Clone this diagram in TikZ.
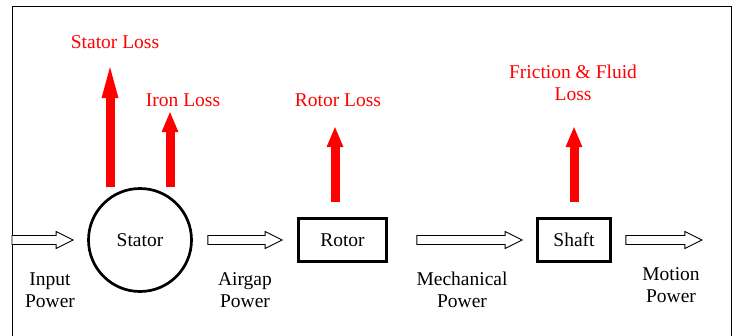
\documentclass[tikz,border=0pt]{standalone}
\usepackage{fontspec}
\setmainfont{Liberation Serif}
\usepackage{tikz}
\usetikzlibrary{arrows.meta,positioning,calc}
\definecolor{lossred}{RGB}{255,0,0}

\begin{document}
\begin{tikzpicture}[
    x=1pt, y=-1pt,
    every node/.style={font=\fontsize{19.5}{22}\selectfont, align=center},
    unit/.style={draw, line width=2.7pt, minimum height=43pt, inner sep=0pt},
    lossarr/.style={draw=lossred, line width=9pt, -{Triangle[length=20pt, width=17pt, line width=0pt]}},
    losstxt/.style={text=lossred},
    flow/.style={draw, fill=white, line width=0.9pt, line join=miter,
        to path={($(\tikztostart)+(0,-4.5)$) -- ($(\tikztotarget)+(-17,-4.5)$)
            -- ($(\tikztotarget)+(-17,-8.5)$) -- (\tikztotarget)
            -- ($(\tikztotarget)+(-17,8.5)$) -- ($(\tikztotarget)+(-17,4.5)$)
            -- ($(\tikztostart)+(0,4.5)$) -- cycle}}
]
\useasboundingbox (0,0) rectangle (735,335);
\draw[line width=1pt] (12,345) -- (12,6) -- (731.5,6) -- (731.5,345);

% machine parts
\node[unit, circle, minimum size=103pt] (stator) at (140,240) {Stator};
\node[unit, minimum width=88pt] (rotor) at (342.5,240) {Rotor};
\node[unit, minimum width=73pt] (shaft) at (574,240) {Shaft};

% power flow
\coordinate (in0) at (12,240);
\coordinate (in1) at ($(stator.west)+(-14,0)$);
\coordinate (ag0) at ($(stator.east)+(15,0)$);
\coordinate (ag1) at ($(rotor.west)+(-15,0)$);
\coordinate (me0) at ($(rotor.east)+(29,0)$);
\coordinate (me1) at ($(shaft.west)+(-14,0)$);
\coordinate (mo0) at ($(shaft.east)+(14,0)$);
\coordinate (mo1) at ($(shaft.east)+(90,0)$);
\draw[flow] (in0) to (in1);
\draw[flow] (ag0) to (ag1);
\draw[flow] (me0) to (me1);
\draw[flow] (mo0) to (mo1);

\node (inpw) at (50,290) {Input\\Power};
\node (agpw) at (245,290) {Airgap\\Power};
\node (mepw) at (462,290) {Mechanical\\Power};
\node (mopw) at (671,285) {Motion\\Power};

% losses
\coordinate (sl0) at ($(stator.north)+(-30,0)$);
\coordinate (sl1) at ($(stator.north)+(-30,-120)$);
\coordinate (il0) at ($(stator.north)+(30,0)$);
\coordinate (il1) at ($(stator.north)+(30,-75)$);
\coordinate (rl0) at ($(rotor.north)+(-7.5,-15)$);
\coordinate (rl1) at ($(rotor.north)+(-7.5,-90)$);
\coordinate (fl0) at ($(shaft.north)+(0,-15)$);
\coordinate (fl1) at ($(shaft.north)+(0,-90)$);
\draw[lossarr, -{Triangle[length=31pt, width=17pt, line width=0pt]}] (sl0) -- (sl1);
\draw[lossarr] (il0) -- (il1);
\draw[lossarr] (rl0) -- (rl1);
\draw[lossarr] (fl0) -- (fl1);

\node[losstxt] (statorloss) at (115,42) {Stator Loss};
\node[losstxt] (ironloss) at (183,100) {Iron Loss};
\node[losstxt] (rotorloss) at (338,100) {Rotor Loss};
\node[losstxt] (frictionloss) at (573,83) {Friction \& Fluid\\Loss};
\end{tikzpicture}
\end{document}
